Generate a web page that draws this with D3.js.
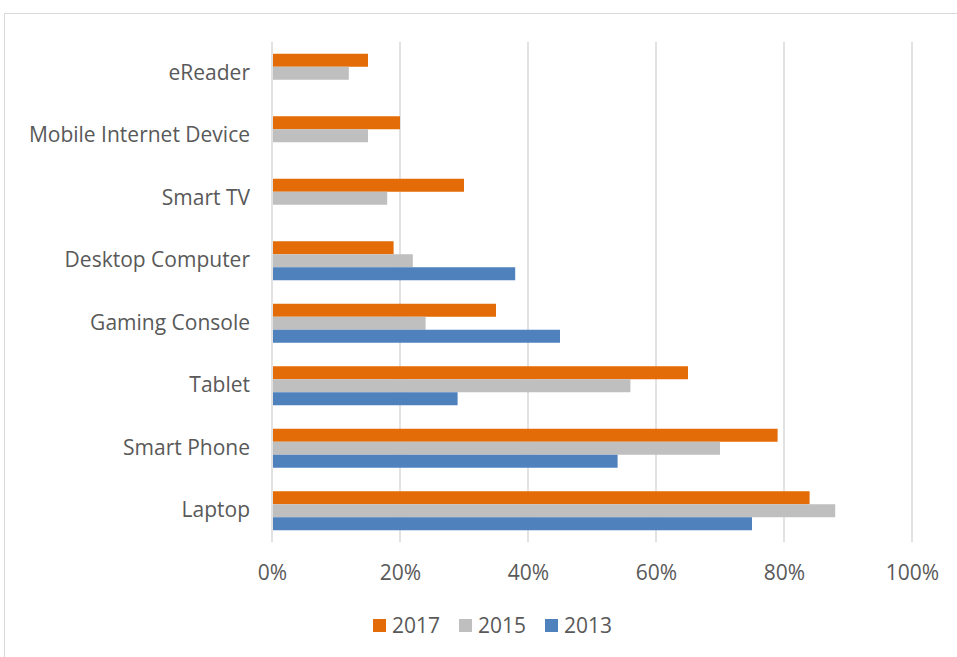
<!DOCTYPE html>
<html>
<head>
<meta charset="utf-8">
<script src="https://cdn.jsdelivr.net/npm/d3@7"></script>
<style>
  body { margin: 0; background: #fff; }
  text { font-family: "Open Sans", sans-serif; fill: #595959; }
</style>
</head>
<body>
<svg id="canvas" width="957" height="657"></svg>
<script>
// device categories, top to bottom
var categories = ["eReader", "Mobile Internet Device", "Smart TV", "Desktop Computer",
                  "Gaming Console", "Tablet", "Smart Phone", "Laptop"];
var seriesNames = ["2017", "2015", "2013"];
var values2017 = [15, 20, 30, 19, 35, 65, 79, 84];
var values2015 = [12, 15, 18, 22, 24, 56, 70, 88];
var values2013 = [0, 0, 0, 38, 45, 29, 54, 75];
var tickValues = [0, 20, 40, 60, 80, 100];
var colors = ["#E36C09", "#BFBFBF", "#4F81BD"];

var svg = d3.select("#canvas");

// outer chart border (runs off right/bottom)
svg.append("rect")
    .attr("x", 4.5).attr("y", 13.5)
    .attr("width", 1000).attr("height", 700)
    .attr("fill", "none").attr("stroke", "#d9d9d9");

var plotLeft = 272, plotRight = 912, plotTop = 42, plotBottom = 542;

var x = d3.scaleLinear().domain([0, 100]).range([plotLeft, plotRight]);
var y = d3.scaleBand().domain(categories).range([plotTop, plotBottom]).paddingInner(0.376).paddingOuter(0.188);
var ySub = d3.scaleBand().domain(seriesNames).range([0, y.bandwidth()]);

// gridlines
svg.append("g").selectAll("line")
    .data(tickValues)
    .join("line")
    .attr("x1", d => x(d)).attr("x2", d => x(d))
    .attr("y1", plotTop).attr("y2", plotBottom)
    .attr("stroke", "#d9d9d9").attr("stroke-width", 1.5);

// bars
var series = [values2017, values2015, values2013];
series.forEach(function(vals, s) {
    svg.append("g").selectAll("rect")
        .data(vals)
        .join("rect")
        .attr("x", x(0) + 1)
        .attr("y", (d, i) => y(categories[i]) + ySub(seriesNames[s]))
        .attr("width", d => Math.max(0, x(d) - x(0) - 1))
        .attr("height", ySub.bandwidth())
        .attr("fill", colors[s]);
});

// x axis labels
var xAxis = d3.axisBottom(x).tickValues(tickValues).tickFormat(d => d + "%").tickSize(0).tickPadding(0);
var gx = svg.append("g").attr("transform", "translate(0," + 565 + ")").call(xAxis);
gx.select(".domain").remove();
gx.selectAll("text").attr("font-size", 21).attr("fill", "#595959")
    .style("font-family", "'Open Sans', sans-serif");

// category labels
var yAxis = d3.axisLeft(y).tickSize(0).tickPadding(22);
var gy = svg.append("g").attr("transform", "translate(" + plotLeft + ",0)").call(yAxis);
gy.select(".domain").remove();
gy.selectAll("text").attr("font-size", 21).attr("fill", "#595959")
    .style("font-family", "'Open Sans', sans-serif");

// legend
var legendX = [373, 459, 545];
var legend = svg.append("g").selectAll("g")
    .data(seriesNames)
    .join("g")
    .attr("transform", (d, i) => "translate(" + legendX[i] + ",619)");
legend.append("rect").attr("width", 13).attr("height", 13).attr("fill", (d, i) => colors[i]);
legend.append("text").attr("x", 19).attr("y", 14).attr("font-size", 21).text(d => d);
</script>
</body>
</html>
